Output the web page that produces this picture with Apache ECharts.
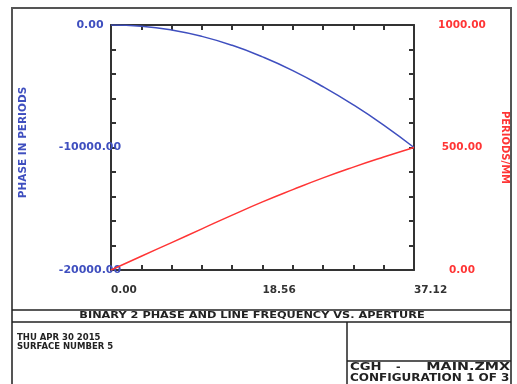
<!DOCTYPE html>
<html>
<head>
<meta charset="utf-8">
<script src="https://cdn.jsdelivr.net/npm/echarts@6/dist/echarts.min.js"></script>
<style>
    html, body { margin: 0; padding: 0; background: #fff; }
    #chart { width: 517px; height: 384px; }
</style>
</head>
<body>
<div id="chart"></div>
<script>
    // 孔径位置 (mm)
    var aperture = [0, 3.712, 7.424, 11.136, 14.848, 18.56, 22.272, 25.984, 29.696, 33.408, 37.12];
    // 相位 (periods)
    var phase = [0, -100, -410, -930, -1660, -2600, -3720, -5040, -6520, -8170, -10000];
    // 线频率 (periods/mm)
    var lineFreq = [0, 56, 112, 168, 224, 278, 328, 376, 420, 461, 500];
    // 刻度标签
    var xTickLabels = [0, 18.56, 37.12];
    var phaseTickLabels = [-20000, -10000, 0];
    var freqTickLabels = [0, 500, 1000];

    var FONT = '"DejaVu Sans", sans-serif';
    var BLUE = '#3f4fbf';
    var RED = '#ff3535';
    var AXIS = '#333';

    function pick(list) {
        return function (v) {
            for (var i = 0; i < list.length; i++) {
                if (Math.abs(v - list[i]) < 1e-6 * Math.max(1, Math.abs(list[i]))) return list[i].toFixed(2);
            }
            return '';
        };
    }
    function pairs(ys) {
        return aperture.map(function (x, i) { return [x, ys[i]]; });
    }
    function lineStyle() {
        return { show: true, onZero: false, lineStyle: { color: AXIS, width: 2 } };
    }
    function tickStyle() {
        return { show: true, inside: true, length: 5, lineStyle: { color: AXIS, width: 2 } };
    }

    var myEcharts = echarts.init(document.getElementById('chart'));
    myEcharts.setOption({
        animation: false,
        grid: { left: 111, right: 103, top: 25, bottom: 114, outerBoundsMode: 'none', containLabel: false },
        xAxis: [{
            type: 'value', min: 0, max: 37.12, interval: 3.712,
            axisLine: lineStyle(),
            axisTick: tickStyle(),
            splitLine: { show: false },
            axisLabel: {
                formatter: pick(xTickLabels), align: 'left', margin: 15,
                color: '#333', fontFamily: FONT, fontWeight: 'bold', fontSize: 10.5
            }
        }, {
            type: 'value', min: 0, max: 37.12, interval: 3.712, position: 'top',
            axisLine: lineStyle(),
            axisTick: tickStyle(),
            splitLine: { show: false },
            axisLabel: { show: false }
        }],
        yAxis: [{
            type: 'value', min: -20000, max: 0, interval: 2000, position: 'left',
            name: 'PHASE IN PERIODS', nameLocation: 'middle', nameRotate: 90, nameGap: 82,
            nameTextStyle: { color: BLUE, fontFamily: FONT, fontWeight: 'bold', fontSize: 10.5, padding: [0, 0, 0, 10] },
            axisLine: lineStyle(),
            axisTick: tickStyle(),
            splitLine: { show: false },
            axisLabel: {
                formatter: pick(phaseTickLabels), align: 'center', margin: 21,
                color: BLUE, fontFamily: FONT, fontWeight: 'bold', fontSize: 11
            }
        }, {
            type: 'value', min: 0, max: 1000, interval: 100, position: 'right',
            name: 'PERIODS/MM', nameLocation: 'middle', nameRotate: -90, nameGap: 86,
            nameTextStyle: { color: RED, fontFamily: FONT, fontWeight: 'bold', fontSize: 10 },
            axisLine: lineStyle(),
            axisTick: tickStyle(),
            splitLine: { show: false },
            axisLabel: {
                formatter: pick(freqTickLabels), align: 'center', margin: 48,
                color: RED, fontFamily: FONT, fontWeight: 'bold', fontSize: 10.5
            }
        }],
        series: [{
            type: 'line', yAxisIndex: 0, data: pairs(phase),
            smooth: true, showSymbol: false,
            lineStyle: { color: BLUE, width: 1.5 }
        }, {
            type: 'line', yAxisIndex: 1, data: pairs(lineFreq),
            smooth: true, showSymbol: false,
            lineStyle: { color: RED, width: 1.5 }
        }],
        graphic: [
            { type: 'rect', shape: { x: 12, y: 8, width: 499, height: 390 }, style: { fill: null, stroke: '#555', lineWidth: 2 } },
            { type: 'line', shape: { x1: 12, y1: 310, x2: 511, y2: 310 }, style: { stroke: '#222', lineWidth: 1.5 } },
            { type: 'line', shape: { x1: 12, y1: 322, x2: 511, y2: 322 }, style: { stroke: '#222', lineWidth: 1.5 } },
            { type: 'line', shape: { x1: 347, y1: 322, x2: 347, y2: 392 }, style: { stroke: '#222', lineWidth: 1.5 } },
            { type: 'line', shape: { x1: 347, y1: 361, x2: 511, y2: 361 }, style: { stroke: '#222', lineWidth: 1.5 } },
            { type: 'text', x: 252, y: 316, scaleX: 1.19, style: { text: 'BINARY 2 PHASE AND LINE FREQUENCY VS. APERTURE', fill: '#222', font: 'bold 9.5px ' + FONT, align: 'center', verticalAlign: 'middle' } },
            { type: 'text', x: 17, y: 338, style: { text: 'THU APR 30 2015', fill: '#222', font: 'bold 8.5px ' + FONT, verticalAlign: 'middle' } },
            { type: 'text', x: 17, y: 347, style: { text: 'SURFACE NUMBER 5', fill: '#222', font: 'bold 8.5px ' + FONT, verticalAlign: 'middle' } },
            { type: 'text', x: 350, y: 367, scaleX: 1.2, style: { text: 'CGH', fill: '#222', font: 'bold 11px ' + FONT, verticalAlign: 'middle' } },
            { type: 'text', x: 396, y: 367, style: { text: '-', fill: '#222', font: 'bold 11px ' + FONT, verticalAlign: 'middle' } },
            { type: 'text', x: 510, y: 367, scaleX: 1.3, style: { text: 'MAIN.ZMX', fill: '#222', font: 'bold 11px ' + FONT, align: 'right', verticalAlign: 'middle' } },
            { type: 'text', x: 350, y: 378, scaleX: 1.2, style: { text: 'CONFIGURATION 1 OF 3', fill: '#222', font: 'bold 10px ' + FONT, verticalAlign: 'middle' } }
        ]
    });
</script>
</body>
</html>
